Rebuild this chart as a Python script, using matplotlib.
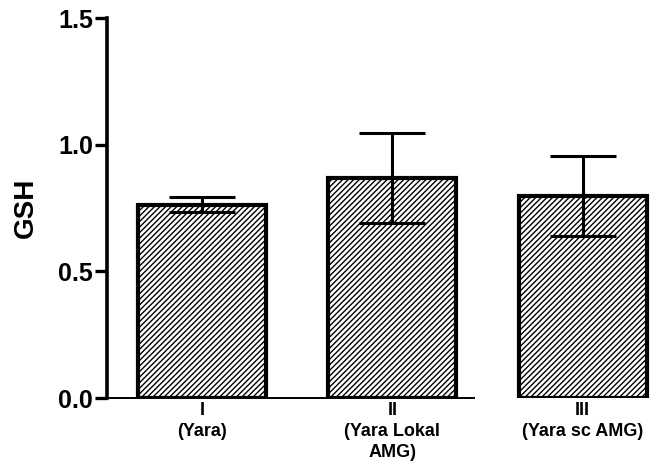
import numpy as np
import matplotlib
matplotlib.use("Agg")
import matplotlib.pyplot as plt

# group labels and GSH values
groups = ["I\n(Yara)", "II\n(Yara Lokal\nAMG)", "III\n(Yara sc AMG)"]
gsh_mean = [0.763, 0.870, 0.797]
gsh_err = [0.03, 0.178, 0.158]

plt.rcParams['font.family'] = ['Liberation Sans', 'DejaVu Sans']
plt.rcParams['hatch.linewidth'] = 1.0

fig = plt.figure(figsize=(6.7, 4.76), dpi=100)
ax = fig.add_axes([107/670, 1 - 398/476, 1 - 107/670, (398 - 18)/476])

x = np.arange(len(groups))
ax.bar(x, gsh_mean, width=0.673, color="white", edgecolor="black",
       linewidth=3.0, hatch="//////", zorder=2)
ax.errorbar(x, gsh_mean, yerr=gsh_err, fmt="none", ecolor="black",
            elinewidth=2.2, capsize=24, capthick=2.2, zorder=3)

ax.set_xlim(-0.5, 2.46)
ax.set_ylim(0, 1.5)
ax.set_yticks([0.0, 0.5, 1.0, 1.5])
ax.set_yticklabels(["0.0", "0.5", "1.0", "1.5"], fontsize=18, fontweight="bold")
ax.set_xticks(x)
ax.set_xticklabels(groups, fontsize=13, fontweight="bold", linespacing=1.3)
ax.tick_params(axis="x", length=0, pad=3)
ax.tick_params(axis="y", length=9, width=2.4, pad=1)
ax.set_ylabel("GSH", fontsize=20, fontweight="bold", labelpad=14)

for s in ["top", "right"]:
    ax.spines[s].set_visible(False)
ax.spines["left"].set_linewidth(2.6)
ax.spines["bottom"].set_linewidth(1.4)
ax.spines["bottom"].set_bounds(-0.5, 1.43)

fig.savefig("out.png", dpi=100)
